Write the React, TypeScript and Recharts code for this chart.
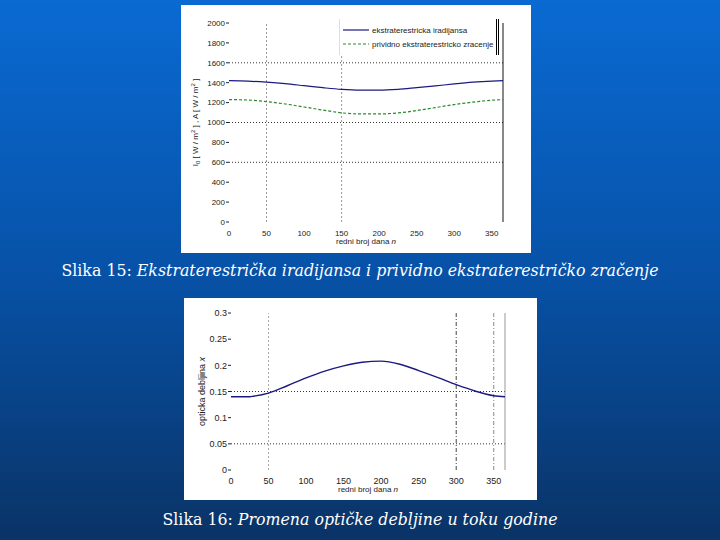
import React from "react";
import { LineChart, Line, XAxis, YAxis, ReferenceLine, Label } from "recharts";

const days = [0, 25, 50, 75, 100, 125, 150, 175, 200, 225, 250, 275, 300, 325, 350, 365];
const irradiance = [1420, 1416, 1405, 1390, 1370, 1350, 1333, 1325, 1325, 1333, 1350, 1368, 1388, 1405, 1416, 1420];
const apparent = [1230, 1226, 1210, 1186, 1156, 1125, 1097, 1086, 1086, 1096, 1120, 1150, 1180, 1205, 1224, 1230];

const days2 = [0, 25, 30, 50, 75, 100, 125, 150, 175, 200, 225, 250, 275, 300, 325, 350, 365];
const depth = [0.14, 0.14, 0.141, 0.147, 0.161, 0.176, 0.189, 0.199, 0.206, 0.208, 0.202, 0.19, 0.177, 0.163, 0.151, 0.142, 0.14];

const xTicks = [0, 50, 100, 150, 200, 250, 300, 350];
const yTicks1 = [0, 200, 400, 600, 800, 1000, 1200, 1400, 1600, 1800, 2000];
const yTicks2 = [0, 0.05, 0.1, 0.15, 0.2, 0.25, 0.3];

const seriesNames = ["ekstraterestricka iradijansa", "prividno ekstraterestricko zracenje"];

const data1 = days.map((d, i) => ({ n: d, I: irradiance[i], A: apparent[i] }));
const data2 = days2.map((d, i) => ({ n: d, x: depth[i] }));

const font = "Arial, 'Liberation Sans', sans-serif";

const LegendBox = () => (
  <div
    style={{
      position: "absolute",
      left: 158,
      top: 14,
      width: 160,
      height: 36,
      background: "#fff",
      borderLeft: "1px solid #ddd",
      borderRight: "3px double #000",
      fontFamily: font,
      fontSize: 8,
      color: "#222",
      boxSizing: "border-box",
      padding: "4px 0 0 3px",
    }}
  >
    <div style={{ display: "flex", alignItems: "center", height: 14 }}>
      <svg width={26} height={4}>
        <line x1={0} y1={2} x2={26} y2={2} stroke="#1a1a80" strokeWidth={1.2} />
      </svg>
      <span style={{ marginLeft: 3 }}>{seriesNames[0]}</span>
    </div>
    <div style={{ display: "flex", alignItems: "center", height: 14 }}>
      <svg width={26} height={4}>
        <line x1={0} y1={2} x2={26} y2={2} stroke="#2a8a2a" strokeWidth={1.2} strokeDasharray="3 2" />
      </svg>
      <span style={{ marginLeft: 3 }}>{seriesNames[1]}</span>
    </div>
  </div>
);

const XLabel = (props: any) => {
  const vb = props.viewBox || {};
  const cx = vb.x + vb.width / 2;
  const y = vb.y + vb.height + 2;
  return (
    <text x={cx} y={y} textAnchor="middle" fontSize={props.fs || 8} fontFamily={font} fill="#222">
      <tspan>redni broj dana </tspan>
      <tspan fontStyle="italic">n</tspan>
    </text>
  );
};

const Y1Label = (props: any) => {
  const vb = props.viewBox || {};
  const x = vb.x + 9;
  const y = vb.y + vb.height / 2;
  return (
    <text x={x} y={y} textAnchor="middle" fontSize={8} fontFamily={font} fill="#222" transform={`rotate(-90 ${x} ${y})`}>
      <tspan>I</tspan>
      <tspan fontSize={6} dy={2}>0</tspan>
      <tspan dy={-2}> [ W / m</tspan>
      <tspan fontSize={6} dy={-3}>2</tspan>
      <tspan dy={3}> ] , A [ W / m</tspan>
      <tspan fontSize={6} dy={-3}>2</tspan>
      <tspan dy={3}> ]</tspan>
    </text>
  );
};

const Y2Label = (props: any) => {
  const vb = props.viewBox || {};
  const x = vb.x + 14;
  const y = vb.y + vb.height / 2;
  return (
    <text x={x} y={y} textAnchor="middle" fontSize={9} fontFamily={font} fill="#222" transform={`rotate(-90 ${x} ${y})`}>
      <tspan>opticka debljina </tspan>
      <tspan fontStyle="italic">x</tspan>
    </text>
  );
};

const captionStyle: React.CSSProperties = {
  position: "absolute",
  left: 0,
  width: 720,
  textAlign: "center",
  color: "#fff",
  fontFamily: "'DejaVu Serif', serif",
  fontSize: 15.8,
};

export default function App() {
  return (
    <div
      style={{
        position: "fixed",
        left: 0,
        top: 0,
        width: 720,
        height: 540,
        background: "linear-gradient(to bottom, #0a6ad2 0%, #0752a8 50%, #0a3366 100%)",
        overflow: "hidden",
      }}
    >
      <div style={{ position: "absolute", left: 181, top: 5, width: 350, height: 248, background: "#fff" }}>
        <LineChart width={350} height={248} data={data1} margin={{ top: 18, right: 28, bottom: 11, left: 8 }}>
          <XAxis
            dataKey="n"
            type="number"
            domain={[0, 365]}
            ticks={xTicks}
            axisLine={false}
            tickLine={false}
            height={20}
            tick={{ fontSize: 8, fill: "#222", fontFamily: font }}
            tickMargin={2}
          >
            <Label content={<XLabel fs={8} />} />
          </XAxis>
          <YAxis
            type="number"
            domain={[0, 2000]}
            ticks={yTicks1}
            axisLine={false}
            tickSize={3}
            tickLine={{ stroke: "#222" }}
            width={40}
            tick={{ fontSize: 8, fill: "#222", fontFamily: font }}
            tickMargin={1}
          >
            <Label content={<Y1Label />} />
          </YAxis>
          <ReferenceLine y={1600} stroke="#333" strokeDasharray="1 2" />
          <ReferenceLine y={1000} stroke="#333" strokeDasharray="1 2" />
          <ReferenceLine y={600} stroke="#333" strokeDasharray="1 2" />
          <ReferenceLine x={50} stroke="#999" strokeDasharray="2 2" />
          <ReferenceLine x={150} stroke="#999" strokeDasharray="2 2" />
          <ReferenceLine x={365} stroke="#111" />
          <Line name={seriesNames[0]} dataKey="I" stroke="#1a1a80" strokeWidth={1.2} dot={false} isAnimationActive={false} type="monotone" />
          <Line name={seriesNames[1]} dataKey="A" stroke="#2a8a2a" strokeWidth={1.2} strokeDasharray="3 2" dot={false} isAnimationActive={false} type="monotone" />
        </LineChart>
        <LegendBox />
      </div>
      <div style={{ ...captionStyle, top: 261 }}>
        Slika 15: <i>Ekstraterestrička iradijansa i prividno ekstraterestričko zračenje</i>
      </div>

      <div style={{ position: "absolute", left: 184, top: 298, width: 353, height: 202, background: "#fff" }}>
        <LineChart width={353} height={202} data={data2} margin={{ top: 15, right: 32, bottom: 10, left: 7 }}>
          <XAxis
            dataKey="n"
            type="number"
            domain={[0, 365]}
            ticks={xTicks}
            axisLine={false}
            tickLine={false}
            height={20}
            tick={{ fontSize: 9, fill: "#222", fontFamily: font }}
            tickMargin={2}
          >
            <Label content={<XLabel fs={8} />} />
          </XAxis>
          <YAxis
            type="number"
            domain={[0, 0.3]}
            ticks={yTicks2}
            axisLine={false}
            tickSize={3}
            tickLine={{ stroke: "#222" }}
            width={40}
            tick={{ fontSize: 9, fill: "#222", fontFamily: font }}
            tickMargin={1}
          >
            <Label content={<Y2Label />} />
          </YAxis>
          <ReferenceLine y={0.15} stroke="#333" strokeDasharray="1 2" />
          <ReferenceLine y={0.05} stroke="#333" strokeDasharray="1 2" />
          <ReferenceLine x={50} stroke="#aaa" strokeDasharray="2 2" />
          <ReferenceLine x={300} stroke="#444" strokeDasharray="4 2 1 2" />
          <ReferenceLine x={350} stroke="#888" strokeDasharray="4 2 1 2" />
          <ReferenceLine x={365} stroke="#999" />
          <Line dataKey="x" stroke="#1a1a80" strokeWidth={1.4} dot={false} isAnimationActive={false} type="monotone" />
        </LineChart>
      </div>
      <div style={{ ...captionStyle, top: 510 }}>
        Slika 16: <i>Promena optičke debljine u toku godine</i>
      </div>
    </div>
  );
}
